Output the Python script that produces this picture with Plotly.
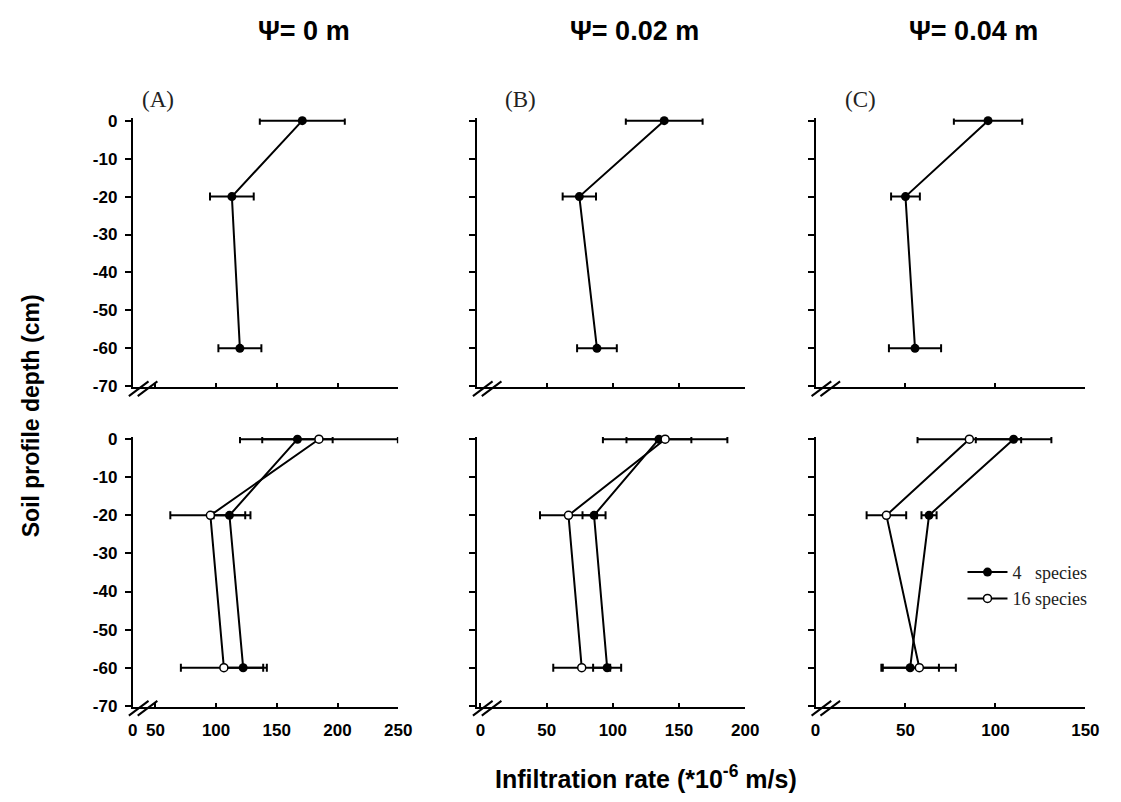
import plotly.graph_objects as go

W, H = 1121, 802

depth = [0, -20, -60]

# Top row: 4 species only
top_vals = {
    "A": [171, 113, 119.6],
    "B": [138.8, 74.7, 88],
    "C": [95.9, 50, 55.3],
}
top_err = {
    "A": [35, 18, 17.7],
    "B": [29, 12.6, 15],
    "C": [19, 8, 14.5],
}
# Bottom row: 4 species vs 16 species
sp4_vals = {"A": [167, 111, 122.3], "B": [134.8, 85.8, 95.7], "C": [110.1, 63.1, 52.6]}
sp4_err = {"A": [29, 13, 16.5], "B": [24.5, 8.7, 10.6], "C": [21, 4.2, 16]}
sp16_vals = {"A": [184.7, 95.3, 106.4], "B": [139.5, 66.5, 76.5], "C": [85.5, 39.4, 57.7]}
sp16_err = {"A": [65, 33, 35.4], "B": [47, 21.5, 21.5], "C": [28.8, 11, 20.3]}

panels = ["A", "B", "C"]
col_titles = ["Ψ= 0 m", "Ψ= 0.02 m", "Ψ= 0.04 m"]
x_ranges = {"A": [31.4, 250], "B": [-2.7, 200], "C": [0, 150]}
x_tickvals = {"A": [31.4, 50, 100, 150, 200, 250], "B": [0, 50, 100, 150, 200], "C": [0, 50, 100, 150]}
x_ticktext = {"A": ["0", "50", "100", "150", "200", "250"], "B": ["0", "50", "100", "150", "200"],
              "C": ["0", "50", "100", "150"]}
y_tickvals = [0, -10, -20, -30, -40, -50, -60, -70]
y_ticktext = ["0", "-10", "-20", "-30", "-40", "-50", "-60", "-70"]

# pixel layout
x_px = {"A": (130, 400), "B": (480, 753), "C": (824.5, 1099)}
row_px = {"top": (116, 387), "bot": (441, 713)}
Y_RANGE = [-70.3, 0.6]


def px2x(p):
    return p / W


def px2y(p):
    return 1 - p / H


fig = go.Figure()

SANS = "Liberation Sans, Arial, sans-serif"
BOLD = dict(family=SANS, size=17, color="black", weight="bold")
SERIF = "Liberation Serif, Times New Roman, serif"

axis_idx = 0
for r, row in enumerate(["top", "bot"]):
    y0p, y70p = row_px[row]
    ppu = (y70p - y0p) / 70.0
    top_px = y0p - Y_RANGE[1] * ppu
    bot_px = y70p + (-70 - Y_RANGE[0]) * ppu
    for c, p in enumerate(panels):
        axis_idx += 1
        xa = "x" if axis_idx == 1 else f"x{axis_idx}"
        ya = "y" if axis_idx == 1 else f"y{axis_idx}"
        xl = "xaxis" if axis_idx == 1 else f"xaxis{axis_idx}"
        yl = "yaxis" if axis_idx == 1 else f"yaxis{axis_idx}"
        fig.layout[xl] = dict(
            domain=[px2x(x_px[p][0]), px2x(x_px[p][1])], range=x_ranges[p], anchor=ya,
            showline=True, linecolor="black", linewidth=2, showgrid=False, zeroline=False,
            tickmode="array",
            tickvals=[v for v in x_tickvals[p] if v > 1],
            ticktext=[t for v, t in zip(x_tickvals[p], x_ticktext[p]) if v > 1],
            ticks="inside", ticklen=4, tickwidth=2, tickcolor="black",
            showticklabels=False,
        )
        fig.layout[yl] = dict(
            domain=[px2y(bot_px), px2y(top_px)], range=Y_RANGE, anchor=xa,
            showline=True, linecolor="black", linewidth=2, showgrid=False, zeroline=False,
            tickmode="array", tickvals=y_tickvals, ticktext=y_ticktext,
            ticks="outside", ticklen=6, tickwidth=2,
            tickcolor="black", showticklabels=(c == 0), tickfont=BOLD, ticklabelstandoff=4,
        )
        if row == "bot":
            fig.layout[xl].update(showticklabels=True, tickvals=x_tickvals[p],
                                  ticktext=x_ticktext[p], tickfont=BOLD, ticklabelstandoff=7)

        if row == "top":
            fig.add_trace(go.Scatter(
                x=top_vals[p], y=depth, xaxis=xa, yaxis=ya, mode="lines+markers",
                line=dict(color="black", width=2),
                marker=dict(symbol="circle", size=9, color="black"),
                error_x=dict(type="data", array=top_err[p], color="black", thickness=2, width=4),
                showlegend=False, cliponaxis=False,
            ))
        else:
            fig.add_trace(go.Scatter(
                x=sp4_vals[p], y=depth, xaxis=xa, yaxis=ya, mode="lines+markers",
                name="4\u00a0\u00a0\u00a0species",
                line=dict(color="black", width=2),
                marker=dict(symbol="circle", size=9, color="black"),
                error_x=dict(type="data", array=sp4_err[p], color="black", thickness=2, width=4),
                showlegend=(p == "C"), cliponaxis=False,
            ))
            fig.add_trace(go.Scatter(
                x=sp16_vals[p], y=depth, xaxis=xa, yaxis=ya, mode="lines+markers",
                name="16 species",
                line=dict(color="black", width=2),
                marker=dict(symbol="circle", size=8, color="white", line=dict(color="black", width=1.5)),
                error_x=dict(type="data", array=sp16_err[p], color="black", thickness=2, width=4),
                showlegend=(p == "C"), cliponaxis=False,
            ))

        # axis break marks "//"
        ax0 = x_px[p][0]
        for off in (0, 9):
            fig.add_shape(type="line", xref="paper", yref="paper",
                          x0=px2x(ax0 - 4 + off), y0=px2y(y70p + 10),
                          x1=px2x(ax0 + 16 + off), y1=px2y(y70p - 5),
                          line=dict(color="black", width=2))

# Panel labels
label_px = {"A": (156, 94), "B": (524, 94), "C": (870, 94)}
for p in panels:
    fx, fy = label_px[p]
    fig.add_annotation(text=f"({p})", x=px2x(fx), y=px2y(fy), xref="paper", yref="paper",
                       xanchor="center", yanchor="middle",
                       showarrow=False, font=dict(family=SERIF, size=23, color="#222"))

# Column titles
title_cx = [304, 640, 985]
for t, cx in zip(col_titles, title_cx):
    fig.add_annotation(text=t, x=px2x(cx), y=px2y(24), xref="paper", yref="paper",
                       xanchor="center", yanchor="middle", showarrow=False,
                       font=dict(family=SANS, size=27, color="black", weight="bold"))

# Axis titles
fig.add_annotation(text="Soil profile depth (cm)", x=px2x(26), y=px2y(417), xref="paper", yref="paper",
                   xanchor="center", yanchor="middle", showarrow=False, textangle=-90,
                   font=dict(family=SANS, size=23, color="black", weight="bold"))
fig.add_annotation(text="Infiltration rate (*10<sup>-6</sup> m/s)", x=px2x(652), y=px2y(786),
                   xref="paper", yref="paper", xanchor="center", yanchor="middle", showarrow=False,
                   font=dict(family=SANS, size=25, color="black", weight="bold"))

fig.update_layout(
    width=W, height=H, margin=dict(l=0, r=0, t=0, b=0),
    paper_bgcolor="white", plot_bgcolor="white",
    legend=dict(x=px2x(974), y=px2y(558), xanchor="left", yanchor="top",
                font=dict(family=SERIF, size=18, color="#222"), bgcolor="rgba(0,0,0,0)",
                tracegroupgap=0, itemwidth=40),
)

fig.write_html("out.html")
